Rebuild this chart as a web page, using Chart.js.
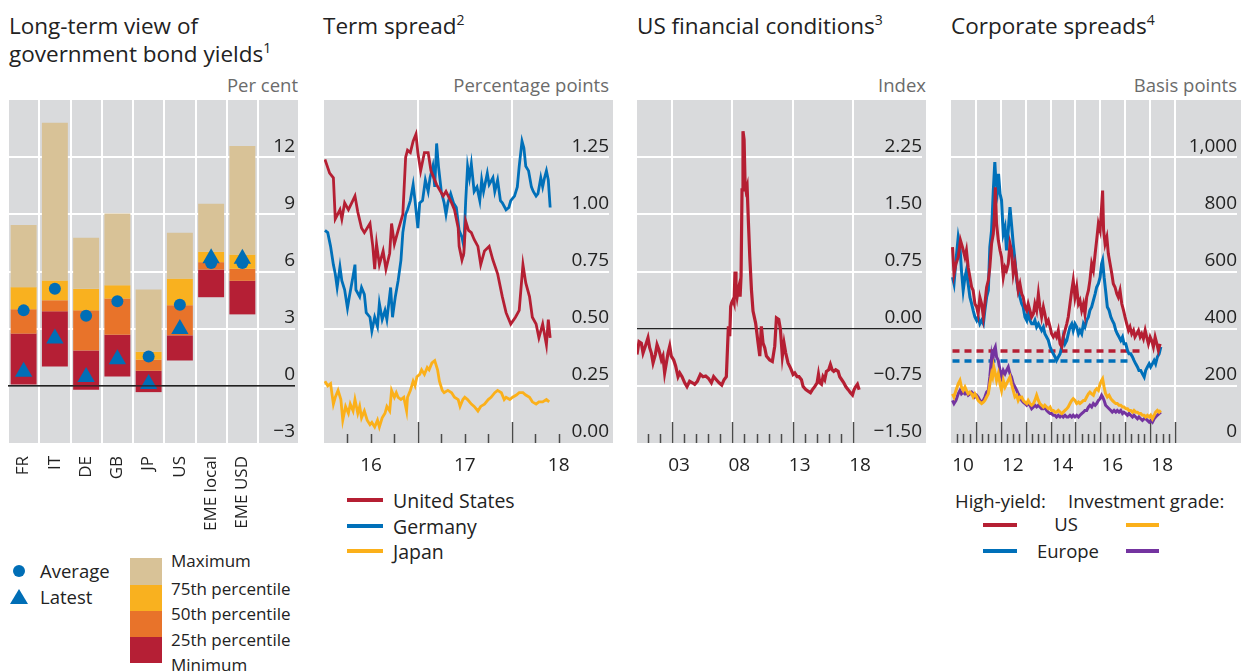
<!DOCTYPE html>
<html>
<head>
<meta charset="utf-8">
<script src="https://cdn.jsdelivr.net/npm/chart.js@4.4.1/dist/chart.umd.min.js"></script>
<style>
  body { margin: 0; width: 1244px; height: 671px; overflow: hidden; background: #fff;
         font-family: "Open Sans", sans-serif; color: #222; position: relative; }
  .abs { position: absolute; white-space: nowrap; }
  .title { font-size: 22.5px; line-height: 27.5px; }
  .title sup { font-size: 14px; line-height: 0; vertical-align: 9px; }
  .unit { font-size: 18.5px; line-height: 20px; color: #6b6b6b; text-align: right; }
  .leg { font-size: 18.5px; line-height: 22px; }
  .leg2 { font-size: 19.5px; line-height: 22px; }
  .leg17 { font-size: 17px; line-height: 22px; }
  .swatch { position: absolute; height: 4px; }
  canvas { position: absolute; }
</style>
</head>
<body>

<div class="abs title" style="left:9px;top:12px">Long-term view of<br>government bond yields<sup>1</sup></div>
<div class="abs title" style="left:323px;top:12px">Term spread<sup>2</sup></div>
<div class="abs title" style="left:637px;top:12px">US financial conditions<sup>3</sup></div>
<div class="abs title" style="left:951px;top:12px">Corporate spreads<sup>4</sup></div>

<div class="abs unit" style="right:946px;top:75px">Per cent</div>
<div class="abs unit" style="right:635px;top:75px">Percentage points</div>
<div class="abs unit" style="right:318px;top:75px">Index</div>
<div class="abs unit" style="right:7px;top:75px">Basis points</div>

<canvas id="yields" width="300" height="450" style="left:0;top:96px"></canvas>
<canvas id="term" width="310" height="384" style="left:310px;top:96px"></canvas>
<canvas id="fci" width="310" height="384" style="left:630px;top:96px"></canvas>
<canvas id="spreads" width="304" height="384" style="left:940px;top:96px"></canvas>

<!-- panel 1 legend -->
<div class="abs" style="left:13px;top:565px;width:12px;height:12px;border-radius:50%;background:#006eb6"></div>
<div class="abs leg" style="left:40px;top:560px">Average</div>
<div class="abs" style="left:10px;top:589px;width:0;height:0;border-left:9px solid transparent;border-right:9px solid transparent;border-bottom:15px solid #006eb6"></div>
<div class="abs leg" style="left:40px;top:586px">Latest</div>
<div class="abs" style="left:130px;top:558px;width:32px;height:27px;background:#d8c297"></div>
<div class="abs" style="left:130px;top:585px;width:32px;height:26px;background:#f9b11f"></div>
<div class="abs" style="left:130px;top:611px;width:32px;height:26px;background:#e8732a"></div>
<div class="abs" style="left:130px;top:637px;width:32px;height:26px;background:#b51f35"></div>
<div class="abs leg17" style="left:171px;top:550px">Maximum</div>
<div class="abs leg17" style="left:171px;top:578px">75th percentile</div>
<div class="abs leg17" style="left:171px;top:603px">50th percentile</div>
<div class="abs leg17" style="left:171px;top:629px">25th percentile</div>
<div class="abs leg17" style="left:171px;top:654px">Minimum</div>

<!-- panel 2 legend -->
<div class="swatch" style="left:347px;top:498px;width:36px;background:#b51f33"></div>
<div class="abs leg2" style="left:393px;top:490px">United States</div>
<div class="swatch" style="left:347px;top:524px;width:36px;background:#0070b9"></div>
<div class="abs leg2" style="left:393px;top:516px">Germany</div>
<div class="swatch" style="left:347px;top:549px;width:36px;background:#fbb01a"></div>
<div class="abs leg2" style="left:393px;top:541px">Japan</div>

<!-- panel 4 legend -->
<div class="abs leg" style="left:955px;top:490px">High-yield:</div>
<div class="abs leg" style="left:1068px;top:490px">Investment grade:</div>
<div class="swatch" style="left:983px;top:523px;width:34px;background:#b51f33"></div>
<div class="abs leg" style="left:1046px;top:513px;width:40px;text-align:center">US</div>
<div class="swatch" style="left:1126px;top:523px;width:33px;background:#fbb01a"></div>
<div class="swatch" style="left:983px;top:549px;width:34px;background:#0070b9"></div>
<div class="abs leg" style="left:1028px;top:540px;width:80px;text-align:center">Europe</div>
<div class="swatch" style="left:1126px;top:549px;width:33px;background:#7434a0"></div>

<script>
const FONT = '"Open Sans", sans-serif';

// ---- Panel 1: long-term government bond yields, per cent
const countries = ['FR', 'IT', 'DE', 'GB', 'JP', 'US', 'EME local', 'EME USD'];
const minimum = [0.07, 1.02, -0.21, 0.49, -0.33, 1.33, 4.65, 3.75];
const pct25   = [2.74, 3.91, 1.86, 2.68, 0.79, 2.65, 6.10, 5.51];
const pct50   = [4.02, 4.49, 3.96, 4.58, 1.37, 4.23, 6.49, 6.14];
const pct75   = [5.18, 5.53, 5.09, 5.28, 1.79, 5.63, 7.04, 6.89];
const maximum = [8.44, 13.8, 7.77, 9.05, 5.05, 8.04, 9.56, 12.58];
const average = [3.96, 5.10, 3.68, 4.44, 1.54, 4.25, 6.45, 6.45];
const latest  = [0.74, 2.49, 0.47, 1.40, 0.09, 2.98, 6.70, 6.67];
const yieldTicks = [-3, 0, 3, 6, 9, 12, 15];

// ---- Panel 2: term spread, percentage points [year, value]
const termUS = [[2016.01,1.24],[2016.06,1.18],[2016.10,1.16],[2016.12,0.98],[2016.17,1.02],[2016.19,0.98],[2016.22,1.05],[2016.26,1.02],[2016.33,1.08],[2016.36,1.01],[2016.40,0.94],[2016.43,0.92],[2016.49,0.96],[2016.52,0.86],[2016.54,0.76],[2016.56,0.87],[2016.59,0.78],[2016.63,0.84],[2016.66,0.76],[2016.70,0.83],[2016.72,0.96],[2016.75,0.87],[2016.79,0.93],[2016.84,1.00],[2016.87,1.25],[2016.89,1.28],[2016.92,1.27],[2016.95,1.32],[2016.98,1.35],[2017.00,1.27],[2017.03,1.19],[2017.07,1.27],[2017.11,1.27],[2017.14,1.19],[2017.20,1.13],[2017.27,1.08],[2017.30,1.10],[2017.36,1.05],[2017.39,1.02],[2017.43,0.94],[2017.44,0.86],[2017.47,0.80],[2017.49,0.83],[2017.51,0.97],[2017.54,0.93],[2017.57,0.92],[2017.60,0.89],[2017.64,0.86],[2017.67,0.78],[2017.71,0.84],[2017.76,0.86],[2017.80,0.80],[2017.85,0.74],[2017.90,0.64],[2017.94,0.57],[2017.99,0.52],[2018.04,0.55],[2018.08,0.58],[2018.12,0.78],[2018.15,0.70],[2018.19,0.64],[2018.22,0.55],[2018.26,0.52],[2018.29,0.46],[2018.33,0.52],[2018.37,0.43],[2018.39,0.54],[2018.41,0.46]];
const termDE = [[2016.01,0.93],[2016.04,0.92],[2016.07,0.86],[2016.10,0.78],[2016.12,0.74],[2016.14,0.68],[2016.17,0.77],[2016.19,0.71],[2016.22,0.67],[2016.25,0.59],[2016.27,0.64],[2016.31,0.73],[2016.33,0.78],[2016.34,0.67],[2016.38,0.64],[2016.40,0.68],[2016.43,0.65],[2016.45,0.57],[2016.49,0.55],[2016.51,0.49],[2016.54,0.55],[2016.57,0.51],[2016.59,0.61],[2016.62,0.54],[2016.65,0.58],[2016.67,0.54],[2016.71,0.68],[2016.73,0.55],[2016.76,0.64],[2016.79,0.71],[2016.82,0.80],[2016.84,0.92],[2016.87,1.00],[2016.89,1.02],[2016.92,1.06],[2016.95,1.13],[2016.97,1.06],[2017.00,0.94],[2017.02,1.05],[2017.05,1.06],[2017.08,1.15],[2017.11,1.10],[2017.13,1.16],[2017.16,1.21],[2017.18,1.12],[2017.20,1.31],[2017.22,1.21],[2017.25,1.10],[2017.28,1.05],[2017.30,1.00],[2017.32,1.05],[2017.35,1.09],[2017.38,1.05],[2017.41,1.03],[2017.44,0.93],[2017.47,0.90],[2017.49,0.86],[2017.51,1.06],[2017.53,1.21],[2017.55,1.16],[2017.57,1.22],[2017.60,1.10],[2017.63,1.12],[2017.66,1.06],[2017.68,1.15],[2017.70,1.10],[2017.74,1.18],[2017.76,1.13],[2017.80,1.16],[2017.82,1.10],[2017.85,1.15],[2017.88,1.06],[2017.90,1.05],[2017.94,1.02],[2017.97,1.03],[2017.99,1.06],[2018.03,1.08],[2018.06,1.12],[2018.08,1.21],[2018.11,1.32],[2018.13,1.29],[2018.15,1.21],[2018.18,1.19],[2018.21,1.12],[2018.23,1.10],[2018.26,1.08],[2018.28,1.09],[2018.31,1.16],[2018.33,1.12],[2018.35,1.16],[2018.37,1.19],[2018.39,1.15],[2018.41,1.03]];
const termJP = [[2016.01,0.27],[2016.04,0.25],[2016.07,0.26],[2016.10,0.17],[2016.12,0.20],[2016.15,0.23],[2016.18,0.19],[2016.20,0.10],[2016.23,0.16],[2016.26,0.13],[2016.28,0.17],[2016.31,0.14],[2016.33,0.19],[2016.36,0.13],[2016.38,0.16],[2016.40,0.11],[2016.43,0.14],[2016.46,0.10],[2016.49,0.08],[2016.51,0.09],[2016.54,0.07],[2016.57,0.10],[2016.59,0.07],[2016.62,0.11],[2016.65,0.13],[2016.67,0.16],[2016.70,0.14],[2016.72,0.23],[2016.75,0.20],[2016.77,0.22],[2016.79,0.20],[2016.82,0.19],[2016.85,0.20],[2016.88,0.14],[2016.89,0.20],[2016.92,0.23],[2016.95,0.27],[2016.97,0.25],[2016.99,0.29],[2017.02,0.30],[2017.04,0.32],[2017.07,0.30],[2017.10,0.33],[2017.12,0.32],[2017.15,0.35],[2017.18,0.36],[2017.21,0.32],[2017.23,0.27],[2017.26,0.23],[2017.28,0.22],[2017.32,0.23],[2017.36,0.22],[2017.39,0.20],[2017.43,0.19],[2017.45,0.16],[2017.48,0.19],[2017.50,0.20],[2017.53,0.19],[2017.57,0.17],[2017.60,0.16],[2017.64,0.14],[2017.67,0.16],[2017.71,0.17],[2017.75,0.19],[2017.78,0.20],[2017.82,0.22],[2017.85,0.23],[2017.89,0.22],[2017.92,0.19],[2017.94,0.20],[2017.98,0.19],[2018.01,0.20],[2018.05,0.21],[2018.08,0.22],[2018.12,0.22],[2018.15,0.21],[2018.19,0.20],[2018.22,0.18],[2018.26,0.17],[2018.29,0.18],[2018.33,0.18],[2018.37,0.19],[2018.40,0.18]];
const termYears = [2016, 2017, 2018];

// ---- Panel 3: US financial conditions index [year, value]
const usFci = [[2000.10,-0.34],[2000.27,-0.17],[2000.46,-0.19],[2000.60,-0.32],[2000.79,-0.23],[2001.01,-0.12],[2001.15,-0.25],[2001.29,-0.32],[2001.43,-0.45],[2001.62,-0.34],[2001.76,-0.21],[2001.92,-0.28],[2002.12,-0.41],[2002.25,-0.36],[2002.39,-0.58],[2002.53,-0.45],[2002.67,-0.32],[2002.81,-0.23],[2002.94,-0.36],[2003.14,-0.41],[2003.30,-0.49],[2003.50,-0.63],[2003.64,-0.58],[2003.83,-0.63],[2004.05,-0.71],[2004.24,-0.76],[2004.46,-0.69],[2004.69,-0.71],[2004.88,-0.73],[2005.10,-0.69],[2005.35,-0.60],[2005.57,-0.63],[2005.79,-0.62],[2006.01,-0.65],[2006.26,-0.71],[2006.45,-0.63],[2006.67,-0.67],[2006.90,-0.71],[2007.12,-0.74],[2007.31,-0.67],[2007.50,-0.63],[2007.59,-0.28],[2007.67,0.03],[2007.78,-0.10],[2007.86,0.29],[2007.94,0.34],[2008.06,0.38],[2008.14,0.34],[2008.22,0.75],[2008.30,0.51],[2008.39,0.42],[2008.47,0.51],[2008.55,0.56],[2008.64,0.42],[2008.72,0.69],[2008.80,1.82],[2008.88,2.59],[2008.97,2.48],[2009.05,1.91],[2009.13,1.82],[2009.22,1.87],[2009.33,1.39],[2009.44,0.95],[2009.58,0.51],[2009.71,0.23],[2009.93,0.07],[2010.13,-0.19],[2010.27,-0.36],[2010.40,0.03],[2010.54,-0.19],[2010.68,-0.25],[2010.82,-0.36],[2011.09,-0.41],[2011.31,-0.43],[2011.51,-0.23],[2011.65,0.14],[2011.84,0.12],[2011.98,-0.01],[2012.14,-0.36],[2012.28,-0.19],[2012.42,-0.32],[2012.61,-0.45],[2012.83,-0.52],[2013.03,-0.60],[2013.17,-0.58],[2013.36,-0.63],[2013.52,-0.63],[2013.72,-0.67],[2013.86,-0.76],[2014.08,-0.80],[2014.27,-0.82],[2014.47,-0.84],[2014.63,-0.80],[2014.82,-0.76],[2015.02,-0.71],[2015.13,-0.60],[2015.24,-0.71],[2015.38,-0.73],[2015.51,-0.63],[2015.65,-0.67],[2015.79,-0.56],[2015.98,-0.54],[2016.12,-0.47],[2016.26,-0.54],[2016.40,-0.56],[2016.56,-0.54],[2016.76,-0.56],[2016.89,-0.63],[2017.06,-0.67],[2017.23,-0.71],[2017.39,-0.76],[2017.59,-0.80],[2017.78,-0.84],[2017.95,-0.87],[2018.08,-0.80],[2018.22,-0.76],[2018.36,-0.73],[2018.50,-0.80]];
const fciTicks = [-1.5, -0.75, 0, 0.75, 1.5, 2.25, 3];
const fciYears = [2003, 2008, 2013, 2018];

// ---- Panel 4: corporate spreads, basis points [year, value]
const hyUS = [[2010.06,685],[2010.12,592],[2010.20,627],[2010.29,650],[2010.38,709],[2010.46,685],[2010.56,650],[2010.62,674],[2010.69,615],[2010.76,580],[2010.83,545],[2010.89,534],[2010.96,487],[2011.03,476],[2011.09,452],[2011.16,510],[2011.23,487],[2011.30,441],[2011.36,487],[2011.43,545],[2011.50,569],[2011.56,615],[2011.63,697],[2011.70,732],[2011.74,790],[2011.78,895],[2011.83,767],[2011.90,709],[2011.97,674],[2012.03,650],[2012.10,580],[2012.17,615],[2012.23,604],[2012.30,627],[2012.37,697],[2012.43,674],[2012.50,592],[2012.57,627],[2012.64,580],[2012.70,534],[2012.77,557],[2012.84,522],[2012.90,510],[2012.97,476],[2013.04,464],[2013.10,487],[2013.17,464],[2013.24,441],[2013.31,452],[2013.37,487],[2013.44,464],[2013.51,522],[2013.57,476],[2013.64,441],[2013.71,476],[2013.77,452],[2013.84,417],[2013.91,429],[2013.98,406],[2014.04,382],[2014.11,371],[2014.18,382],[2014.24,371],[2014.31,394],[2014.38,347],[2014.45,336],[2014.51,371],[2014.58,394],[2014.65,417],[2014.71,441],[2014.78,487],[2014.85,534],[2014.91,569],[2014.98,510],[2015.05,545],[2015.12,487],[2015.18,499],[2015.25,464],[2015.32,487],[2015.38,452],[2015.45,510],[2015.52,534],[2015.58,569],[2015.65,627],[2015.72,604],[2015.79,662],[2015.85,709],[2015.92,767],[2015.99,744],[2016.05,825],[2016.09,883],[2016.13,744],[2016.19,697],[2016.26,720],[2016.32,662],[2016.39,627],[2016.46,592],[2016.52,557],[2016.59,545],[2016.66,522],[2016.72,510],[2016.79,534],[2016.86,487],[2016.93,464],[2016.99,441],[2017.06,417],[2017.13,394],[2017.19,406],[2017.26,382],[2017.33,394],[2017.39,371],[2017.46,382],[2017.53,394],[2017.60,371],[2017.66,382],[2017.73,365],[2017.80,394],[2017.86,371],[2017.93,347],[2018.00,371],[2018.06,359],[2018.13,336],[2018.20,371],[2018.27,347],[2018.33,324],[2018.40,347]];
const hyEurope = [[2010.06,580],[2010.12,557],[2010.20,639],[2010.29,720],[2010.36,685],[2010.42,604],[2010.49,534],[2010.56,580],[2010.62,604],[2010.69,557],[2010.76,510],[2010.83,487],[2010.89,464],[2010.96,441],[2011.03,429],[2011.09,441],[2011.16,417],[2011.23,429],[2011.30,417],[2011.36,464],[2011.43,510],[2011.50,534],[2011.56,685],[2011.63,744],[2011.70,883],[2011.76,983],[2011.80,918],[2011.86,883],[2011.91,942],[2011.97,872],[2012.03,849],[2012.10,732],[2012.17,755],[2012.23,674],[2012.30,744],[2012.37,825],[2012.43,767],[2012.50,697],[2012.57,639],[2012.64,569],[2012.70,534],[2012.77,510],[2012.84,487],[2012.90,476],[2012.97,441],[2013.04,429],[2013.10,464],[2013.17,429],[2013.24,417],[2013.31,417],[2013.37,429],[2013.44,406],[2013.51,417],[2013.57,406],[2013.64,394],[2013.71,406],[2013.77,382],[2013.84,371],[2013.91,359],[2013.98,336],[2014.04,324],[2014.11,312],[2014.18,301],[2014.24,289],[2014.31,301],[2014.38,312],[2014.45,336],[2014.51,371],[2014.58,347],[2014.65,359],[2014.71,382],[2014.78,406],[2014.85,417],[2014.91,394],[2014.98,417],[2015.05,406],[2015.12,382],[2015.18,394],[2015.25,382],[2015.32,417],[2015.38,406],[2015.45,429],[2015.52,441],[2015.58,464],[2015.65,476],[2015.72,499],[2015.79,522],[2015.85,545],[2015.92,557],[2015.99,580],[2016.05,627],[2016.09,639],[2016.15,580],[2016.21,534],[2016.28,476],[2016.35,464],[2016.42,441],[2016.48,429],[2016.55,417],[2016.62,394],[2016.68,382],[2016.75,371],[2016.82,359],[2016.89,371],[2016.95,347],[2017.02,347],[2017.09,324],[2017.15,312],[2017.22,312],[2017.29,301],[2017.35,289],[2017.42,277],[2017.49,266],[2017.55,254],[2017.62,254],[2017.69,242],[2017.76,231],[2017.82,254],[2017.89,266],[2017.96,277],[2018.02,266],[2018.09,277],[2018.16,289],[2018.22,277],[2018.29,301],[2018.36,312],[2018.43,336]];
const igUS = [[2010.06,172],[2010.12,161],[2010.20,184],[2010.29,207],[2010.36,219],[2010.42,196],[2010.49,184],[2010.56,196],[2010.62,184],[2010.69,172],[2010.76,178],[2010.83,172],[2010.89,161],[2010.96,172],[2011.03,161],[2011.09,149],[2011.16,143],[2011.23,138],[2011.30,143],[2011.36,149],[2011.43,161],[2011.50,172],[2011.56,207],[2011.63,242],[2011.67,231],[2011.72,266],[2011.78,242],[2011.83,219],[2011.90,242],[2011.97,207],[2012.03,184],[2012.10,219],[2012.17,196],[2012.23,207],[2012.30,219],[2012.37,231],[2012.43,207],[2012.50,184],[2012.57,161],[2012.64,167],[2012.70,149],[2012.77,161],[2012.84,161],[2012.90,149],[2012.97,143],[2013.04,138],[2013.10,149],[2013.17,138],[2013.24,132],[2013.31,138],[2013.37,149],[2013.44,167],[2013.51,149],[2013.57,138],[2013.64,132],[2013.71,126],[2013.77,132],[2013.84,126],[2013.91,120],[2013.98,126],[2014.04,114],[2014.11,114],[2014.18,108],[2014.24,108],[2014.31,114],[2014.38,108],[2014.45,103],[2014.51,108],[2014.58,114],[2014.65,120],[2014.71,126],[2014.78,138],[2014.85,149],[2014.91,155],[2014.98,149],[2015.05,138],[2015.12,143],[2015.18,138],[2015.25,143],[2015.32,149],[2015.38,149],[2015.45,161],[2015.52,172],[2015.58,178],[2015.65,172],[2015.72,167],[2015.79,184],[2015.85,190],[2015.92,184],[2015.99,207],[2016.05,219],[2016.09,225],[2016.15,196],[2016.21,172],[2016.28,161],[2016.35,167],[2016.42,155],[2016.48,149],[2016.55,143],[2016.62,138],[2016.68,138],[2016.75,132],[2016.82,132],[2016.89,126],[2016.95,126],[2017.02,120],[2017.09,120],[2017.15,114],[2017.22,114],[2017.29,108],[2017.35,114],[2017.42,108],[2017.49,108],[2017.55,103],[2017.62,103],[2017.69,97],[2017.76,97],[2017.82,91],[2017.89,97],[2017.96,91],[2018.02,97],[2018.09,85],[2018.16,97],[2018.22,108],[2018.29,114],[2018.36,108],[2018.43,114]];
const igEurope = [[2010.06,149],[2010.12,138],[2010.20,149],[2010.29,172],[2010.36,184],[2010.42,172],[2010.49,178],[2010.56,172],[2010.62,178],[2010.69,167],[2010.76,172],[2010.83,178],[2010.89,172],[2010.96,161],[2011.03,167],[2011.09,161],[2011.16,149],[2011.23,143],[2011.30,149],[2011.36,161],[2011.43,178],[2011.50,184],[2011.56,231],[2011.63,301],[2011.67,277],[2011.72,324],[2011.78,336],[2011.83,301],[2011.90,289],[2011.97,254],[2012.03,231],[2012.10,254],[2012.17,242],[2012.23,254],[2012.30,266],[2012.37,242],[2012.43,231],[2012.50,207],[2012.57,196],[2012.64,184],[2012.70,172],[2012.77,161],[2012.84,149],[2012.90,143],[2012.97,138],[2013.04,132],[2013.10,138],[2013.17,132],[2013.24,120],[2013.31,126],[2013.37,132],[2013.44,126],[2013.51,132],[2013.57,126],[2013.64,120],[2013.71,120],[2013.77,126],[2013.84,114],[2013.91,108],[2013.98,103],[2014.04,103],[2014.11,97],[2014.18,97],[2014.24,91],[2014.31,97],[2014.38,91],[2014.45,97],[2014.51,91],[2014.58,97],[2014.65,91],[2014.71,91],[2014.78,97],[2014.85,91],[2014.91,97],[2014.98,91],[2015.05,97],[2015.12,91],[2015.18,97],[2015.25,103],[2015.32,108],[2015.38,114],[2015.45,114],[2015.52,126],[2015.58,132],[2015.65,126],[2015.72,138],[2015.79,132],[2015.85,138],[2015.92,149],[2015.99,155],[2016.05,167],[2016.09,161],[2016.15,149],[2016.21,132],[2016.28,126],[2016.35,120],[2016.42,114],[2016.48,108],[2016.55,114],[2016.62,108],[2016.68,114],[2016.75,108],[2016.82,114],[2016.89,103],[2016.95,108],[2017.02,103],[2017.09,97],[2017.15,103],[2017.22,97],[2017.29,91],[2017.35,97],[2017.42,91],[2017.49,85],[2017.55,91],[2017.62,85],[2017.69,79],[2017.76,85],[2017.82,85],[2017.89,79],[2017.96,73],[2018.02,79],[2018.09,73],[2018.16,85],[2018.22,91],[2018.29,97],[2018.36,103],[2018.43,108]];
const hyMeanUS = [[2010.06,322],[2017.76,322]];
const hyMeanEurope = [[2010.06,287],[2017.12,287]];
const spreadTicks = [0, 200, 400, 600, 800, 1000, 1200];
const spreadYears = [2010, 2011, 2012, 2013, 2014, 2015, 2016, 2017, 2018, 2019];

const RED = '#b51f33', BLUE = '#0070b9', YELLOW = '#fbb01a', PURPLE = '#7434a0';
const GREY = '#d9dadc';
const TICK_FONT = {size: 19, family: FONT};

// grey panel behind plot area and the y-label column
const panelBg = {
  id: 'panelBg',
  beforeDraw(chart, args, opts) {
    const {ctx, chartArea: a, scales: {y}} = chart;
    ctx.save();
    ctx.fillStyle = GREY;
    ctx.fillRect(a.left, a.top, y.right + opts.extra - a.left, a.bottom - a.top);
    ctx.restore();
  }
};

// short tick marks rising from the bottom of the plot; optional zero line over the bars
const tickMarks = {
  id: 'tickMarks',
  beforeDatasetsDraw(chart, args, opts) {
    if (!opts.major) return;
    const {ctx, chartArea: a, scales: {x}} = chart;
    ctx.save();
    ctx.strokeStyle = '#4a4a4a';
    ctx.lineWidth = 1.5;
    const mark = (v, len) => {
      const px = Math.round(x.getPixelForValue(v)) + 0.5;
      ctx.beginPath();
      ctx.moveTo(px, a.bottom);
      ctx.lineTo(px, a.bottom - len);
      ctx.stroke();
    };
    opts.minor.forEach(v => mark(v, 9));
    opts.major.forEach(v => mark(v, 21));
    ctx.restore();
  },
  afterDatasetsDraw(chart, args, opts) {
    if (!opts.zeroOnTop) return;
    const {ctx, chartArea: a, scales: {y}} = chart;
    const py = y.getPixelForValue(0);
    ctx.save();
    ctx.strokeStyle = '#222';
    ctx.lineWidth = 1.2;
    ctx.beginPath();
    ctx.moveTo(a.left, py);
    ctx.lineTo(y.right, py);
    ctx.stroke();
    ctx.restore();
  }
};

function quarters(fromYear, toYear) {
  const out = [];
  for (let y = fromYear; y <= toYear; y++) out.push(y + 0.25, y + 0.5, y + 0.75);
  return out;
}

function yAxis(tickVals, fmt, width, zeroLine) {
  const lo = tickVals[0], hi = tickVals[tickVals.length - 1];
  return {
    position: 'right',
    min: lo, max: hi,
    afterBuildTicks: s => { s.ticks = tickVals.map(v => ({value: v})); },
    afterFit: s => { s.width = width; s.paddingTop = 0; s.paddingBottom = 0; },
    border: {display: false},
    grid: {
      color: c => (c.tick.value === lo || c.tick.value === hi) ? 'rgba(0,0,0,0)'
        : (zeroLine && c.tick.value === 0 ? '#222' : '#fff'),
      lineWidth: c => (zeroLine && c.tick.value === 0) ? 1.2 : 2,
      drawTicks: true,
      tickLength: width
    },
    ticks: {
      crossAlign: 'far', padding: 0, labelOffset: -11,
      color: '#222', font: TICK_FONT,
      callback: v => v === hi ? '' : fmt(v)
    }
  };
}

function xAxis(years, min, max, offsetPx, labelFn) {
  return {
    type: 'linear', min, max,
    afterBuildTicks: s => { s.ticks = years.map(v => ({value: v})); },
    afterFit: s => { s.height = 37; s.paddingLeft = 0; s.paddingRight = 0; },
    border: {display: false},
    grid: {
      color: c => c.tick.value <= min ? 'rgba(0,0,0,0)' : '#fff',
      lineWidth: 2, drawTicks: false
    },
    ticks: {
      autoSkip: false, maxRotation: 0, padding: 11, labelOffset: offsetPx,
      color: '#222', font: TICK_FONT,
      callback: labelFn
    }
  };
}

function line(pairs, color, width, dash) {
  return {
    data: pairs.map(([x, y]) => ({x, y})),
    borderColor: color, borderWidth: width, borderDash: dash || [],
    pointRadius: 0, tension: 0, fill: false
  };
}

const minus = s => s.replace('-', '\u2212');
const yy = v => String(v).slice(2);

const common = {
  responsive: false, animation: false, events: [],
  plugins: {legend: {display: false}, tooltip: {enabled: false}}
};

function layout(left, right) {
  return {autoPadding: false, padding: {left, top: 4, right, bottom: 0}};
}

Chart.defaults.font.family = FONT;

// Panel 1
new Chart(document.getElementById('yields'), {
  type: 'bar',
  data: {
    labels: countries,
    datasets: [
      {type: 'line', data: latest, showLine: false, pointStyle: 'triangle', pointRadius: 10,
       pointBackgroundColor: '#006eb6', pointBorderWidth: 0, order: 0},
      {type: 'line', data: average, showLine: false, pointStyle: 'circle', pointRadius: 6,
       pointBackgroundColor: '#006eb6', pointBorderWidth: 0, order: 1},
      {data: countries.map((c, i) => [pct75[i], maximum[i]]), backgroundColor: '#d8c297', order: 2},
      {data: countries.map((c, i) => [pct50[i], pct75[i]]), backgroundColor: '#f9b11f', order: 3},
      {data: countries.map((c, i) => [pct25[i], pct50[i]]), backgroundColor: '#e8732a', order: 4},
      {data: countries.map((c, i) => [minimum[i], pct25[i]]), backgroundColor: '#b51f35', order: 5}
    ].map(d => d.type ? d : Object.assign(d, {grouped: false, barPercentage: 0.83, categoryPercentage: 1, borderWidth: 0}))
  },
  options: Object.assign({}, common, {
    layout: layout(8, 5),
    plugins: Object.assign({}, common.plugins, {panelBg: {extra: 3}, tickMarks: {zeroOnTop: true}}),
    scales: {
      x: {
        type: 'category', offset: true,
        afterFit: s => { s.height = 103; s.paddingLeft = 0; s.paddingRight = 0; },
        border: {display: false},
        grid: {color: '#fff', lineWidth: 2, offset: true, drawTicks: false},
        ticks: {minRotation: 90, maxRotation: 90, padding: 13, autoSkip: false,
                color: '#222', font: {size: 17, family: FONT}}
      },
      y: yAxis(yieldTicks, v => minus(String(v)), 37, true)
    }
  }),
  plugins: [panelBg, tickMarks]
});

// Panel 2
new Chart(document.getElementById('term'), {
  type: 'line',
  data: {datasets: [line(termUS, RED, 2.8), line(termDE, BLUE, 2.8), line(termJP, YELLOW, 2.8)]},
  options: Object.assign({}, common, {
    layout: layout(14, 11),
    plugins: Object.assign({}, common.plugins, {
      panelBg: {extra: 4},
      tickMarks: {major: [2017, 2018], minor: quarters(2016, 2018).filter(v => v < 2018.6)}
    }),
    scales: {
      x: xAxis(termYears, 2016, 2018.6, 47, yy),
      y: yAxis([0, 0.25, 0.5, 0.75, 1, 1.25, 1.5], v => v.toFixed(2), 41, false)
    }
  }),
  plugins: [panelBg, tickMarks]
});

// Panel 3
new Chart(document.getElementById('fci'), {
  type: 'line',
  data: {datasets: [line(usFci, RED, 3.2)]},
  options: Object.assign({}, common, {
    layout: layout(7, 18),
    plugins: Object.assign({}, common.plugins, {
      panelBg: {extra: 4},
      tickMarks: {major: fciYears, minor: [2001, 2002, 2004, 2005, 2006, 2007, 2009, 2010, 2011, 2012, 2014, 2015, 2016, 2017]}
    }),
    scales: {
      x: xAxis(fciYears, 2000.1, 2019.4, 7, yy),
      y: yAxis(fciTicks, v => minus(v.toFixed(2)), 52, true)
    }
  }),
  plugins: [panelBg, tickMarks]
});

// Panel 4
new Chart(document.getElementById('spreads'), {
  type: 'line',
  data: {datasets: [
    line(hyUS, RED, 3), line(hyEurope, BLUE, 3), line(igUS, YELLOW, 3), line(igEurope, PURPLE, 3),
    line(hyMeanUS, RED, 3.5, [7, 5]), line(hyMeanEurope, BLUE, 3.5, [7, 5])
  ]},
  options: Object.assign({}, common, {
    layout: layout(11, 7),
    plugins: Object.assign({}, common.plugins, {
      panelBg: {extra: 4},
      tickMarks: {major: spreadYears.slice(1), minor: quarters(2010, 2018)}
    }),
    scales: {
      x: xAxis(spreadYears, 2010, 2019.4, 12, v => (v % 2 === 0 && v < 2019) ? yy(v) : ''),
      y: yAxis(spreadTicks, v => v.toLocaleString('en-US'), 52, false)
    }
  }),
  plugins: [panelBg, tickMarks]
});
</script>
</body>
</html>
